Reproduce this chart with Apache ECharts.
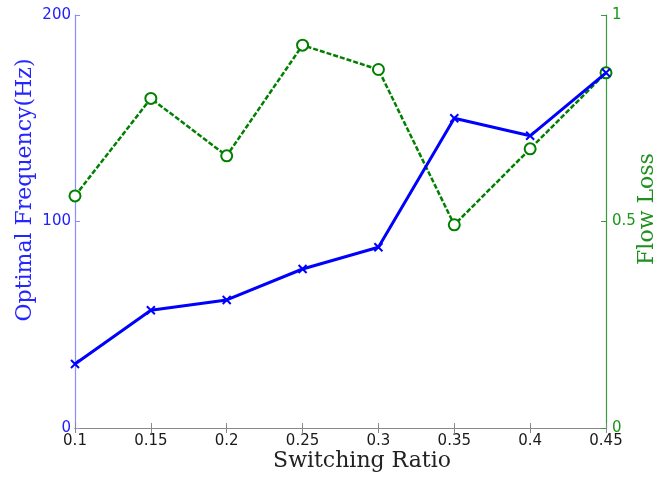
<!DOCTYPE html>
<html><head><meta charset="utf-8">
<script src="https://cdn.jsdelivr.net/npm/echarts@6/dist/echarts.min.js"></script>
<style>html,body{margin:0;padding:0;background:#fff}#c{width:658px;height:481px}</style>
</head><body><div id="c"></div>
<script>
var ratios = [0.1, 0.15, 0.2, 0.25, 0.3, 0.35, 0.4, 0.45];
var frequency = [31, 57, 62, 77, 87.5, 150, 141.5, 172];
var flowLoss = [0.562, 0.798, 0.659, 0.927, 0.868, 0.492, 0.676, 0.860];
var xTicks = ['0.1','0.15','0.2','0.25','0.3','0.35','0.4','0.45'];

var chart = echarts.init(document.getElementById('c'), null, {renderer:'canvas'});
var labFont = 'DejaVu Sans, sans-serif';
var serif = 'DejaVu Serif, serif';
chart.setOption({
  animation: false,
  grid: {left: 75, right: 52, top: 15, bottom: 53, containLabel: false},
  xAxis: [{
    type: 'value', min: 0.1, max: 0.45, interval: 0.05,
    axisLine: {lineStyle: {color: '#888', width: 1.2}},
    axisTick: {inside: true, length: 5, lineStyle: {color: '#888'}},
    axisLabel: {color: '#1a1a1a', fontSize: 15, fontFamily: labFont, margin: 6,
      formatter: function(v){ var i = Math.round((v - 0.1) / 0.05); return xTicks[i]; }},
    splitLine: {show: false}
  }, {
    type: 'value', position: 'top', min: 0.1, max: 0.45, interval: 0.05,
    axisLine: {lineStyle: {color: '#888', width: 1.2}},
    axisTick: {inside: true, length: 5, lineStyle: {color: '#888'}},
    axisLabel: {show: false}, splitLine: {show: false}
  }],
  yAxis: [{
    type: 'value', min: 0, max: 200, interval: 100, position: 'left',
    axisLine: {show: true, lineStyle: {color: '#8c8cff', width: 1.2}},
    axisTick: {show: true, inside: true, length: 5, lineStyle: {color: '#8c8cff'}},
    axisLabel: {color: '#2020ff', fontSize: 15, fontFamily: labFont, margin: 4},
    splitLine: {show: false}
  }, {
    type: 'value', min: 0, max: 1, interval: 0.5, position: 'right',
    axisLine: {show: true, lineStyle: {color: '#3a9a3a', width: 1.2}},
    axisTick: {show: true, inside: true, length: 5, lineStyle: {color: '#3a9a3a'}},
    axisLabel: {color: '#1a961a', fontSize: 15, fontFamily: labFont, margin: 6},
    splitLine: {show: false}
  }],
  graphic: [
    {type: 'text', x: 25, y: 190, rotation: Math.PI/2,
     style: {text: 'Optimal Frequency(Hz)', fill: '#2525ff', font: '22px ' + serif, align: 'center', verticalAlign: 'middle'}},
    {type: 'text', x: 647, y: 209, rotation: Math.PI/2,
     style: {text: 'Flow Loss', fill: '#1f8f1f', font: '22px ' + serif, align: 'center', verticalAlign: 'middle'}},
    {type: 'text', x: 362, y: 461,
     style: {text: 'Switching Ratio', fill: '#222', font: '22px ' + serif, align: 'center', verticalAlign: 'middle'}}
  ],
  series: [{
    type: 'line', yAxisIndex: 1,
    data: ratios.map(function(r,i){ return [r, flowLoss[i]]; }),
    lineStyle: {color: '#008000', width: 2.5, type: [5, 2]},
    symbol: 'emptyCircle', symbolSize: 11,
    itemStyle: {color: '#008000', borderColor: '#008000', borderWidth: 2.5},
    z: 2
  }, {
    type: 'line', yAxisIndex: 0,
    data: ratios.map(function(r,i){ return [r, frequency[i]]; }),
    lineStyle: {color: '#0000ff', width: 3},
    symbol: 'path://M0,0L10,10M10,0L0,10', symbolSize: 8,
    itemStyle: {color: 'none', borderColor: '#0000ff', borderWidth: 2},
    z: 3
  }]
});
</script></body></html>
